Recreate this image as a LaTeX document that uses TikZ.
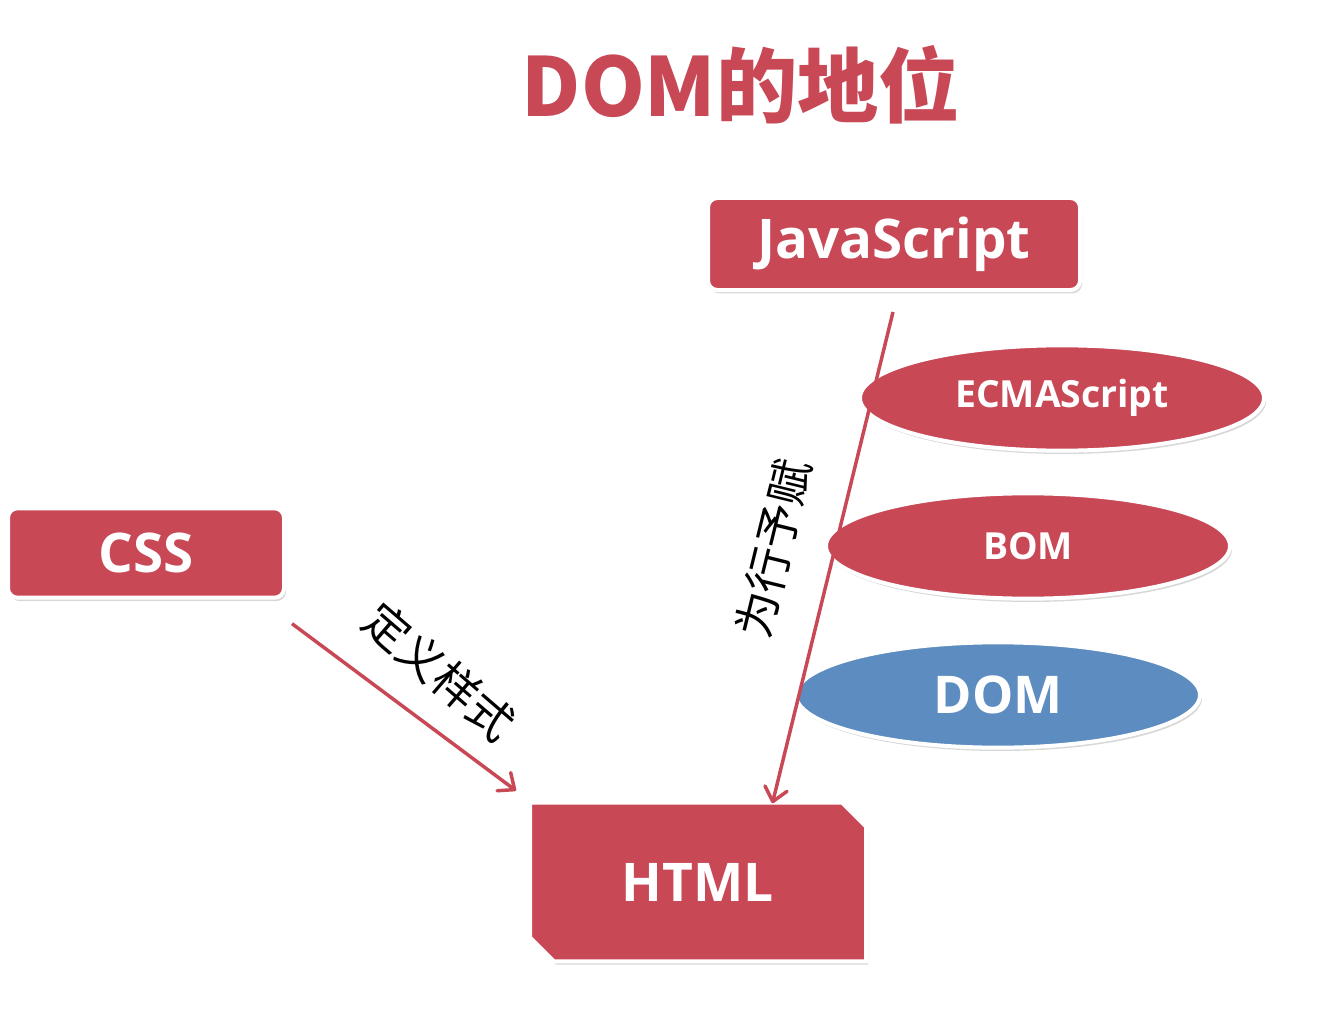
\documentclass[tikz,border=0pt]{standalone}
\usepackage{fontspec}
\setmainfont{Open Sans}
\newfontfamily\cjk{Noto Sans CJK SC}
\usetikzlibrary{positioning,arrows.meta,shapes.misc,shapes.geometric,shadows}
\definecolor{domred}{RGB}{200,72,86}
\definecolor{domblue}{RGB}{92,140,192}

\begin{document}
\begin{tikzpicture}[x=0.75pt,y=-0.75pt,
	fillbox/.style={fill=domred, draw=white, line width=3pt, text=white, inner sep=0pt, drop shadow={shadow xshift=1.5pt, shadow yshift=-2.5pt, opacity=0.3}},
	redbox/.style={fillbox, rectangle, rounded corners=7pt, font=\bfseries\fontsize{41}{48}\selectfont},
	htmlbox/.style={fillbox, chamfered rectangle, chamfered rectangle corners={north east,south west}, chamfered rectangle xsep=9pt, chamfered rectangle ysep=9pt, font=\bfseries\fontsize{40}{48}\selectfont},
	oval/.style={fillbox, ellipse, minimum width=303pt, minimum height=79pt},
	arrow/.style={draw=domred, line width=2.6pt, -{Straight Barb[length=10pt, width=17pt, line width=2.6pt, round]}},
	tag/.style={font=\cjk\fontsize{34}{40}\selectfont, inner sep=0pt, sloped}]
	\useasboundingbox[fill=white] (0,0) rectangle (1328,1020);

	\node[font=\cjk\bfseries\fontsize{61}{70}\selectfont, text=domred] (title) at (741,85) {DOM的地位};

	\node[redbox, minimum width=279pt, minimum height=69pt] (js) at (894,244) {JavaScript};
	\node[redbox, minimum width=207pt, minimum height=67pt] (css) at (146,553) {CSS};
	\node[htmlbox, minimum width=252pt, minimum height=119pt] (html) at (698,882) {HTML};

	\node[oval, font=\bfseries\fontsize{28}{34}\selectfont] (ecma) at (1062,398) {ECMAScript};
	\node[oval, font=\bfseries\fontsize{28}{34}\selectfont] (bom) at (1028,546) {BOM};
	\node[oval, fill=domblue, font=\bfseries\fontsize{39}{46}\selectfont] (dom) at (998,695) {DOM};

	\draw[arrow] ([shift={(6,24)}]css.south east) -- ([shift={(-12,-10)}]html.north west)
		node[tag, pos=0.52, above=20pt, rotate=-4] {定义样式};
	\draw[arrow] ([shift={(-1,20)}]js.south) -- ([shift={(-83,-10)}]html.north east)
		node[tag, pos=0.51, above=28pt] {为行予赋};
\end{tikzpicture}
\end{document}
